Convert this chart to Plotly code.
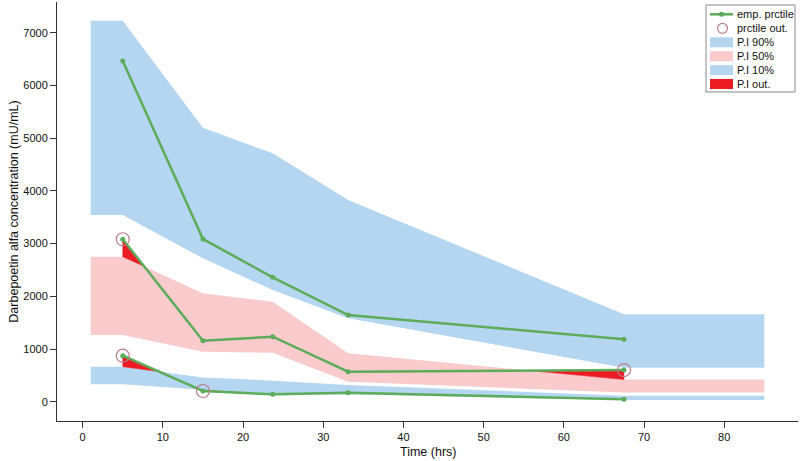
import plotly.graph_objects as go

# ---- data ----
times = [5, 15, 23.7, 33.1, 67.5]          # bin times (hrs)
band_start, band_end = 1, 85               # x extent of prediction intervals

emp_hi = [6465, 3087, 2360, 1645, 1184]    # empirical 90th percentile
emp_mid = [3083, 1158, 1233, 570, 601]     # empirical 50th percentile
emp_lo = [873, 203, 140, 171, 45]          # empirical 10th percentile

pi90_top = [7230, 5200, 4713, 3830, 1658]
pi90_bot = [3543, 2721, 2120, 1582, 645]
pi50_top = [2752, 2057, 1898, 918, 420]
pi50_bot = [1266, 949, 930, 380, 175]
pi10_top = [664, 460, 400, 317, 114]
pi10_bot = [330, 225, 120, 140, 32]

x_ticks = [0, 10, 20, 30, 40, 50, 60, 70, 80]
y_ticks = [0, 1000, 2000, 3000, 4000, 5000, 6000, 7000]

legend_labels = ["emp. prctile", "prctile out.", "P.I 90%", "P.I 50%", "P.I 10%", "P.I out."]

BLUE = "rgb(181,214,240)"
PINK = "rgb(249,203,205)"
RED = "rgb(236,28,36)"
GREEN = "rgb(92,172,90)"
CIRCLE = "rgb(185,125,135)"
FONT = "Liberation Sans, Arial, sans-serif"

band_x = [band_start] + times + [band_end]


def ext(v):
    return [v[0]] + list(v) + [v[-1]]


def band_trace(top, bot, name, color):
    xs = band_x + band_x[::-1]
    ys = ext(top) + ext(bot)[::-1]
    return go.Scatter(x=xs, y=ys, fill="toself", fillcolor=color, mode="lines",
                      line=dict(width=0, color=color), name=name, showlegend=False,
                      hoverinfo="skip")


def out_polys(emp, top, bot):
    """Polygons between empirical line and band bound where it lies outside."""
    xs, ys = [], []
    for bound, sign in ((top, 1), (bot, -1)):
        for i in range(len(times) - 1):
            x0, x1 = times[i], times[i + 1]
            d0 = sign * (emp[i] - bound[i])
            d1 = sign * (emp[i + 1] - bound[i + 1])
            if d0 <= 0 and d1 <= 0:
                continue
            if d0 > 0 and d1 > 0:
                px_ = [x0, x1, x1, x0]
                py_ = [emp[i], emp[i + 1], bound[i + 1], bound[i]]
            else:
                t = d0 / (d0 - d1)
                xc = x0 + t * (x1 - x0)
                yc = emp[i] + t * (emp[i + 1] - emp[i])
                if d0 > 0:
                    px_ = [x0, xc, x0]
                    py_ = [emp[i], yc, bound[i]]
                else:
                    px_ = [xc, x1, x1]
                    py_ = [yc, emp[i + 1], bound[i + 1]]
            xs += px_ + [px_[0], None]
            ys += py_ + [py_[0], None]
    return xs, ys


sets = ((emp_hi, pi90_top, pi90_bot), (emp_mid, pi50_top, pi50_bot), (emp_lo, pi10_top, pi10_bot))

fig = go.Figure()
fig.add_trace(band_trace(pi90_top, pi90_bot, "P.I 90%", BLUE))
fig.add_trace(band_trace(pi50_top, pi50_bot, "P.I 50%", PINK))
fig.add_trace(band_trace(pi10_top, pi10_bot, "P.I 10%", BLUE))

rx, ry = [], []
for emp, top, bot in sets:
    a, b = out_polys(emp, top, bot)
    rx += a
    ry += b
fig.add_trace(go.Scatter(x=rx, y=ry, fill="toself", fillcolor=RED, mode="lines",
                         line=dict(width=0.5, color=RED), name="P.I out.",
                         showlegend=False, hoverinfo="skip"))

for emp in (emp_hi, emp_mid, emp_lo):
    fig.add_trace(go.Scatter(x=times, y=emp, mode="lines+markers", name="emp. prctile",
                             line=dict(color=GREEN, width=2.5),
                             marker=dict(color=GREEN, size=5), showlegend=False))

cx, cy = [], []
for emp, top, bot in sets:
    for t, e, a, b in zip(times, emp, top, bot):
        if e > a or e < b:
            cx.append(t)
            cy.append(e)
fig.add_trace(go.Scatter(x=cx, y=cy, mode="markers", name="prctile out.", showlegend=False,
                         marker=dict(symbol="circle-open", size=13, color=CIRCLE,
                                     line=dict(color=CIRCLE, width=1.2))))

# ---- legend drawn as a box (pixel layout of the reference) ----
L, R, T, B = 57, 798, 2, 421


def px(x):
    return (x - L) / (R - L)


def py(y):
    return (B - y) / (B - T)


shapes = [dict(type="rect", xref="paper", yref="paper", x0=px(706), x1=px(795),
               y0=py(5), y1=py(92), line=dict(color="#8a8a8a", width=1), fillcolor="white")]
rows = [14.3, 28.3, 42.3, 56.2, 70.1, 84.0]
sw0, sw1 = 710, 733
shapes.append(dict(type="line", xref="paper", yref="paper", x0=px(sw0), x1=px(sw1),
                   y0=py(rows[0]), y1=py(rows[0]), line=dict(color=GREEN, width=2.5)))
shapes.append(dict(type="circle", xref="paper", yref="paper", x0=px(719), x1=px(724),
                   y0=py(rows[0] - 2.5), y1=py(rows[0] + 2.5), line=dict(width=0),
                   fillcolor=GREEN))
shapes.append(dict(type="circle", xref="paper", yref="paper", x0=px(717.5), x1=px(727.5),
                   y0=py(rows[1] - 5), y1=py(rows[1] + 5),
                   line=dict(color=CIRCLE, width=1.2), fillcolor="rgba(0,0,0,0)"))
for r, c in zip(rows[2:], (BLUE, PINK, BLUE, RED)):
    shapes.append(dict(type="rect", xref="paper", yref="paper", x0=px(sw0), x1=px(sw1),
                       y0=py(r + 5), y1=py(r - 5), line=dict(width=0), fillcolor=c))
annotations = [dict(text=lab, xref="paper", yref="paper", x=px(735), y=py(r),
                    xanchor="left", yanchor="middle", showarrow=False,
                    font=dict(family=FONT, size=11, color="#111"))
               for lab, r in zip(legend_labels, rows)]
# x-axis title placed under the tick labels
annotations.append(dict(text="Time (hrs)", xref="paper", yref="paper", x=0.5, y=py(452),
                        xanchor="center", yanchor="middle", showarrow=False,
                        font=dict(family=FONT, size=12.5, color="#111")))

fig.update_layout(
    width=800, height=461,
    margin=dict(l=L, r=800 - R, t=T, b=461 - B),
    plot_bgcolor="white", paper_bgcolor="white",
    font=dict(family=FONT, size=11, color="#111"),
    showlegend=False,
    shapes=shapes, annotations=annotations,
    xaxis=dict(range=[-3.2, 89.2], tickvals=x_ticks, ticks="outside", ticklen=6,
               tickcolor="#333", showline=True, linecolor="#333", linewidth=1,
               showgrid=False, zeroline=False, automargin=False),
    yaxis=dict(range=[-366, 7585], tickvals=y_ticks, ticks="outside", ticklen=6,
               tickcolor="#333", showline=True, linecolor="#333", linewidth=1,
               showgrid=False, zeroline=False, automargin=False,
               title=dict(text="Darbepoetin alfa concentration (mU/mL)",
                          font=dict(size=12.5), standoff=1)),
)

fig.write_html("out.html", config={"displayModeBar": False},
               post_script="document.body.style.margin='0';document.body.style.overflow='hidden';")
